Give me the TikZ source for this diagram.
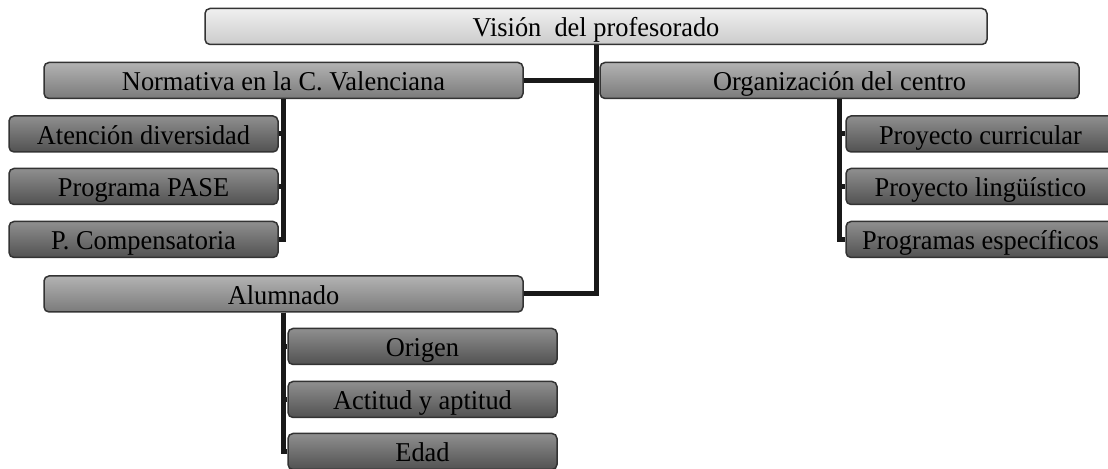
\documentclass[tikz,border=0pt]{standalone}
\usepackage{fontspec}
\setmainfont[FakeStretch=0.97]{Liberation Serif}
\usepackage{tikz}
\usepackage{xcolor}

\begin{document}
\begin{tikzpicture}[x=0.5pt,y=-0.5pt,
  caja/.style={draw=black!80,line width=0.75pt,rounded corners=2.5pt,minimum height=18pt,
    inner sep=0pt,text height=10.5pt,text depth=0pt,font=\fontsize{13.6}{15}\selectfont},
  nivelA/.style={caja,top color=black!6,bottom color=black!20,minimum width=391pt},
  nivelB/.style={caja,top color=black!30,bottom color=black!52,minimum width=239.5pt},
  nivelC/.style={caja,top color=black!44,bottom color=black!68,minimum width=134.5pt},
  rama/.style={line width=2.5pt,black!90}]
  \useasboundingbox (0,0) rectangle (1108,469);

  \node[nivelA] (vision) at (596,26.5) {Visión~ del profesorado};
  \node[nivelB] (normativa) at (283.5,80.5) {Normativa en la C. Valenciana};
  \node[nivelB] (organizacion) at (839.5,80.5) {Organización del centro};
  \node[nivelB] (alumnado) at (283.5,294) {Alumnado};

  \node[nivelC] (atencion) at (143.5,134) {Atención diversidad};
  \node[nivelC] (pase) at (143.5,186.5) {Programa PASE};
  \node[nivelC] (compensatoria) at (143.5,239.5) {P. Compensatoria};

  \node[nivelC] (curricular) at (980.5,134) {Proyecto curricular};
  \node[nivelC] (linguistico) at (980.5,186.5) {Proyecto lingüístico};
  \node[nivelC] (especificos) at (980.5,239.5) {Programas específicos};

  \node[nivelC] (origen) at (422.5,346.5) {Origen};
  \node[nivelC] (actitud) at (422.5,399.5) {Actitud y aptitud};
  \node[nivelC] (edad) at (422.5,451.5) {Edad};

  \draw[rama] (vision.south) |- (alumnado.east);
  \draw[rama] (normativa.east) -- (organizacion.west);
  \foreach \n in {atencion,pase,compensatoria}
    \draw[rama] (normativa.south) |- (\n.east);
  \foreach \n in {curricular,linguistico,especificos}
    \draw[rama] (organizacion.south) |- (\n.west);
  \foreach \n in {origen,actitud,edad}
    \draw[rama] (alumnado.south) |- (\n.west);
\end{tikzpicture}
\end{document}
